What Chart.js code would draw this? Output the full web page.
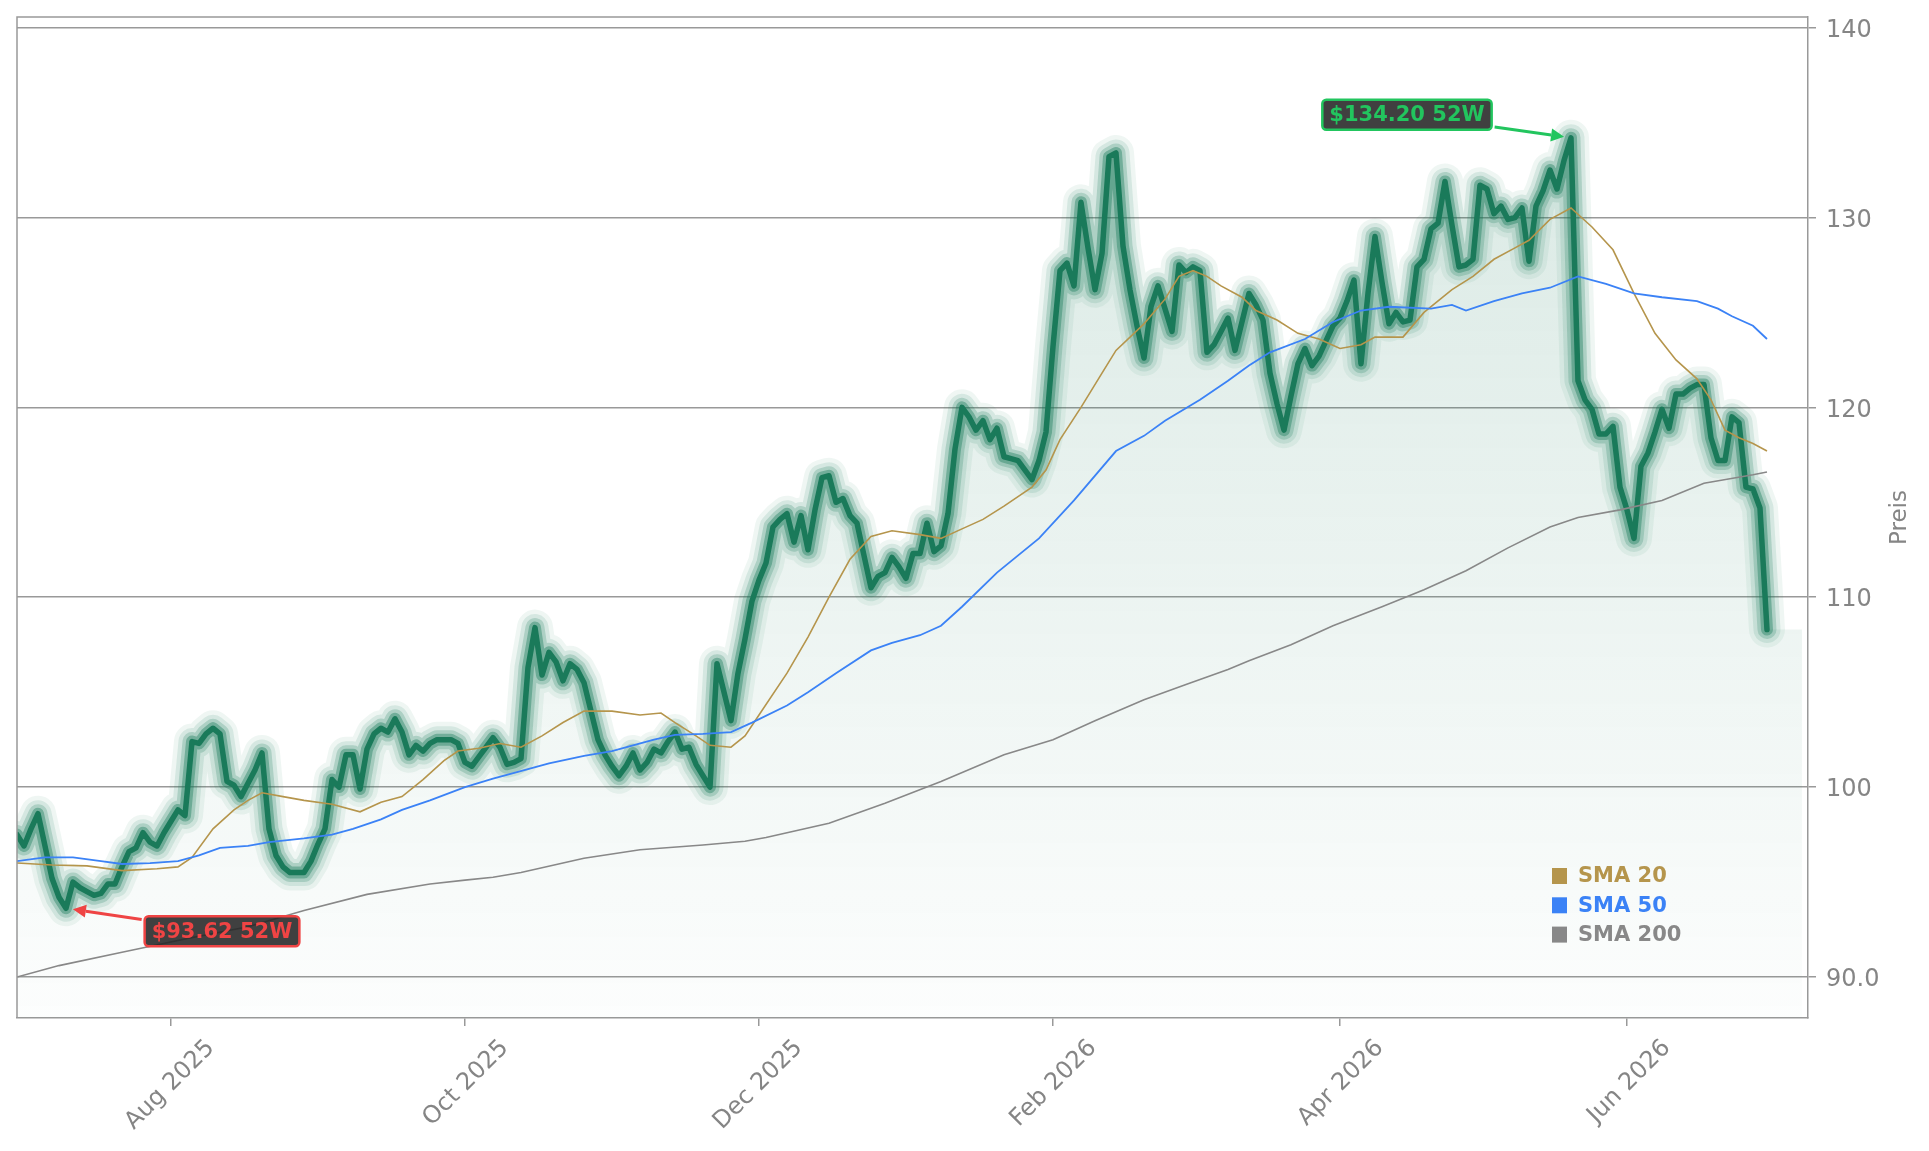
<!DOCTYPE html>
<html>
<head>
<meta charset="utf-8">
<script src="https://cdn.jsdelivr.net/npm/chart.js@4.4.1/dist/chart.umd.min.js"></script>
<style>
html,body{margin:0;padding:0;background:#ffffff;}
#wrap{width:1929px;height:1151px;position:relative;}
canvas{display:block;}
</style>
</head>
<body>
<div id="wrap"><canvas id="c" width="1929" height="1151"></canvas></div>
<script>
// x = trading-day index: 0 = 2025-07-01 ... 250 = 2026-06-30
const priceClose = [
  97.5, 96.9, 97.8, 98.6, 96.9, 95.2, 94.2, 93.62, 95.0, 94.7,
  94.5, 94.3, 94.4, 94.9, 94.9, 95.8, 96.6, 96.8, 97.6, 97.1,
  96.9, 97.6, 98.2, 98.8, 98.5, 102.4, 102.3, 102.8, 103.1, 102.8,
  100.3, 100.1, 99.5, 100.2, 100.9, 101.8, 97.8, 96.4, 95.8, 95.5,
  95.5, 95.5, 96.1, 97.0, 97.8, 100.4, 100.0, 101.7, 101.7, 99.9,
  102.0, 102.8, 103.1, 102.9, 103.6, 102.9, 101.7, 102.2, 101.9, 102.3,
  102.5, 102.5, 102.5, 102.3, 101.3, 101.1, 101.6, 102.1, 102.6, 102.1,
  101.2, 101.3, 101.5, 106.3, 108.4, 105.9, 107.1, 106.6, 105.6, 106.5,
  106.2, 105.5, 104.0, 102.5, 101.7, 101.1, 100.6, 101.1, 101.8, 100.9,
  101.3, 102.0, 101.8, 102.4, 102.9, 102.0, 102.1, 101.2, 100.6, 100.0,
  106.5, 105.0, 103.5, 106.0, 107.8, 109.8, 110.9, 111.8, 113.7, 114.1,
  114.4, 112.9, 114.3, 112.5, 114.6, 116.3, 116.4, 115.0, 115.2, 114.3,
  113.9, 112.2, 110.5, 111.1, 111.3, 112.1, 111.6, 111.0, 112.3, 112.3,
  113.9, 112.4, 112.7, 114.4, 117.8, 120.0, 119.5, 118.8, 119.3, 118.3,
  118.9, 117.4, 117.3, 117.2, 116.7, 116.2, 117.2, 118.7, 123.2, 127.2,
  127.6, 126.4, 130.8, 128.4, 126.2, 128.1, 133.2, 133.4, 128.5, 126.2,
  124.3, 122.6, 125.3, 126.4, 125.2, 124.0, 127.5, 127.1, 127.4, 127.2,
  122.9, 123.3, 124.0, 124.7, 123.0, 124.5, 126.0, 125.4, 124.6, 121.8,
  120.2, 118.8, 120.6, 122.3, 123.1, 122.2, 122.7, 123.5, 124.3, 124.7,
  125.6, 126.7, 122.3, 126.0, 129.0, 126.6, 124.4, 125.0, 124.5, 124.6,
  127.4, 127.8, 129.4, 129.7, 131.9, 129.6, 127.4, 127.5, 127.8, 131.7,
  131.5, 130.2, 130.6, 129.9, 130.0, 130.5, 127.7, 130.6, 131.4, 132.5,
  131.5, 133.0, 134.2, 121.4, 120.4, 119.9, 118.6, 118.6, 119.0, 115.8,
  114.6, 113.1, 116.9, 117.6, 118.7, 119.9, 118.9, 120.7, 120.7, 121.0,
  121.2, 121.2, 118.4, 117.2, 117.2, 119.5, 119.2, 115.8, 115.7, 114.7,
  108.3
];

// moving averages: [trading-day index, value]
const sma20 = [
  [0,96.0],[5,95.9],[10,95.85],[15,95.6],[20,95.7],[23,95.8],[25,96.3],[28,97.8],[31,98.8],[33,99.3],
  [35,99.7],[38,99.5],[41,99.3],[45,99.1],[49,98.7],[52,99.2],[55,99.5],[58,100.4],[61,101.4],[63,101.9],
  [66,102.05],[69,102.3],[72,102.1],[75,102.7],[78,103.4],[81,104.0],[85,104.0],[89,103.8],[92,103.9],[94,103.4],
  [97,102.7],[99,102.2],[102,102.1],[104,102.7],[106,103.8],[110,106.0],[113,107.9],[116,110.0],[119,112.0],[122,113.2],
  [125,113.5],[129,113.3],[132,113.1],[135,113.6],[138,114.1],[141,114.8],[145,115.8],[147,116.7],[149,118.3],[152,120.0],
  [155,121.8],[157,123.0],[161,124.4],[164,125.7],[166,126.9],[168,127.2],[170,126.9],[172,126.4],[175,125.8],[177,125.1],
  [180,124.6],[183,123.9],[186,123.6],[189,123.1],[192,123.3],[194,123.7],[198,123.7],[201,125.0],[205,126.2],[208,126.9],
  [211,127.8],[214,128.4],[216,128.8],[219,129.9],[222,130.5],[225,129.5],[228,128.3],[231,126.0],[234,123.9],[237,122.5],
  [240,121.5],[242,120.4],[244,118.8],[246,118.4],[248,118.1],[250,117.7]
];
const sma50 = [
  [0,96.1],[4,96.3],[8,96.3],[12,96.1],[15,95.95],[19,96.0],[23,96.1],[26,96.4],[29,96.8],[33,96.9],
  [36,97.1],[41,97.3],[45,97.5],[48,97.8],[52,98.3],[55,98.8],[59,99.3],[64,100.0],[68,100.45],[73,100.95],
  [76,101.25],[81,101.65],[85,101.9],[88,102.2],[91,102.5],[94,102.75],[98,102.8],[102,102.9],[105,103.4],[110,104.3],
  [113,105.0],[117,106.0],[122,107.2],[125,107.6],[129,108.0],[132,108.5],[135,109.5],[140,111.3],[146,113.1],[151,115.1],
  [157,117.7],[161,118.5],[164,119.3],[169,120.4],[173,121.4],[176,122.2],[179,122.9],[184,123.6],[188,124.5],[192,125.1],
  [196,125.3],[202,125.2],[205,125.4],[207,125.1],[211,125.6],[215,126.0],[219,126.3],[223,126.9],[227,126.5],[231,126.0],
  [235,125.8],[240,125.6],[243,125.2],[245,124.8],[248,124.3],[250,123.6]
];
const sma200 = [
  [0,90.0],[6,90.6],[15,91.3],[24,92.0],[33,92.65],[41,93.5],[50,94.35],[59,94.9],[64,95.1],[68,95.25],
  [72,95.5],[81,96.25],[89,96.7],[98,96.95],[104,97.15],[107,97.35],[116,98.1],[124,99.15],[132,100.3],[141,101.7],
  [148,102.5],[154,103.5],[161,104.6],[167,105.4],[173,106.2],[176,106.65],[182,107.5],[188,108.5],[195,109.5],[201,110.4],
  [207,111.4],[213,112.6],[219,113.7],[223,114.2],[229,114.6],[235,115.1],[241,116.0],[248,116.45],[250,116.6]
];

const seriesNames = ['SMA 20', 'SMA 50', 'SMA 200'];
const xTickDays = [22, 64, 106, 148, 189, 230];
const xTickLabels = ['Aug 2025', 'Oct 2025', 'Dec 2025', 'Feb 2026', 'Apr 2026', 'Jun 2026'];
const yTickValues = [90, 100, 110, 120, 130, 140];
const yTickLabels = ['90.0', '100', '110', '120', '130', '140'];
const yAxisTitle = 'Preis';
const xRange = [0, 255.86];
const yRange = [87.84, 140.56];
const fillExtendDays = 5;

// ---------- styling ----------
const FONT = '"DejaVu Sans", "Liberation Sans", sans-serif';
const GREEN = '26,122,90';
const C20 = '#b5954c', C50 = '#3b82f6', C200 = '#888888';
const AXIS = '#999999', TXT = '#858585';

const toXY = arr => arr.map((v, i) => ({x: i, y: v}));
const pairXY = arr => arr.map(p => ({x: p[0], y: p[1]}));
const lastIdx = priceClose.length - 1;
const fillData = toXY(priceClose).concat([{x: lastIdx + fillExtendDays, y: priceClose[lastIdx]}]);

function glow(width, alpha) {
  return {data: toXY(priceClose), borderColor: `rgba(${GREEN},${alpha})`, borderWidth: width,
    pointRadius: 0, fill: false, tension: 0, borderJoinStyle: 'round', borderCapStyle: 'round'};
}

const datasets = [
  {label: seriesNames[2], data: pairXY(sma200), borderColor: C200, borderWidth: 1.6, pointRadius: 0, fill: false},
  {label: seriesNames[1], data: pairXY(sma50), borderColor: C50, borderWidth: 1.8, pointRadius: 0, fill: false},
  {label: seriesNames[0], data: pairXY(sma20), borderColor: C20, borderWidth: 1.6, pointRadius: 0, fill: false},
  {label: 'Kurs', data: toXY(priceClose), borderColor: '#1a7a5a', borderWidth: 5.5, pointRadius: 0, fill: false,
    borderJoinStyle: 'round', borderCapStyle: 'round'},
  glow(12, 0.40),
  glow(19, 0.22),
  glow(27, 0.12),
  glow(36, 0.07),
  {label: 'fill', data: fillData, borderWidth: 0, pointRadius: 0, fill: 'start',
    backgroundColor: (ctx) => {
      const ch = ctx.chart, ca = ch.chartArea;
      if (!ca) return 'rgba(0,0,0,0)';
      const g = ch.ctx.createLinearGradient(0, ca.top, 0, ca.bottom);
      g.addColorStop(0, `rgba(${GREEN},0.18)`);
      g.addColorStop(1, `rgba(${GREEN},0.012)`);
      return g;
    }}
];
const legendColors = {'SMA 20': C20, 'SMA 50': C50, 'SMA 200': C200};

function drawTag(ctx, px, py, dx, dy, text, color) {
  ctx.save();
  ctx.font = 'bold 21px ' + FONT;
  const tw = ctx.measureText(text).width;
  const bw = tw + 14, bh = 30;
  const cx = px + dx, cy = py + dy;
  const ang = Math.atan2(py - cy, px - cx);
  const ca = Math.abs(Math.cos(ang)) || 1e-6, sa = Math.abs(Math.sin(ang)) || 1e-6;
  const t0 = Math.min((bw / 2) / ca, (bh / 2) / sa) + 3;
  const sx = cx + Math.cos(ang) * t0, sy = cy + Math.sin(ang) * t0;
  const ex = px - Math.cos(ang) * 7, ey = py - Math.sin(ang) * 7;
  const headL = 13, headW = 6.5;
  const bx = ex - Math.cos(ang) * headL, by = ey - Math.sin(ang) * headL;
  ctx.strokeStyle = color; ctx.lineWidth = 3; ctx.lineCap = 'butt';
  ctx.beginPath(); ctx.moveTo(sx, sy); ctx.lineTo(bx, by); ctx.stroke();
  ctx.fillStyle = color;
  ctx.beginPath(); ctx.moveTo(ex, ey);
  ctx.lineTo(bx - Math.sin(ang) * headW, by + Math.cos(ang) * headW);
  ctx.lineTo(bx + Math.sin(ang) * headW, by - Math.cos(ang) * headW);
  ctx.closePath(); ctx.fill();
  ctx.beginPath();
  if (ctx.roundRect) ctx.roundRect(cx - bw / 2, cy - bh / 2, bw, bh, 4);
  else ctx.rect(cx - bw / 2, cy - bh / 2, bw, bh);
  ctx.fillStyle = 'rgba(38,38,38,0.88)'; ctx.fill();
  ctx.lineWidth = 2.5; ctx.strokeStyle = color; ctx.stroke();
  ctx.fillStyle = color; ctx.textAlign = 'center'; ctx.textBaseline = 'middle';
  ctx.fillText(text, cx, cy + 1);
  ctx.restore();
}

const decorations = {
  id: 'decorations',
  afterDatasetsDraw(chart) {
    const {ctx, chartArea: ca, scales: {x, y}} = chart;
    // 52-week high / low tags
    const hi = Math.max(...priceClose), lo = Math.min(...priceClose);
    const hiI = priceClose.indexOf(hi), loI = priceClose.indexOf(lo);
    drawTag(ctx, x.getPixelForValue(hiI), y.getPixelForValue(hi), -164, -23, '$' + hi.toFixed(2) + ' 52W', '#22c55e');
    drawTag(ctx, x.getPixelForValue(loI), y.getPixelForValue(lo), 156, 23, '$' + lo.toFixed(2) + ' 52W', '#ef4444');
    // legend
    ctx.save();
    ctx.font = 'bold 21px ' + FONT;
    ctx.textBaseline = 'middle'; ctx.textAlign = 'left';
    const lx = ca.right - 256, ly = ca.bottom - 142;
    seriesNames.forEach((n, k) => {
      const yy = ly + k * 29.3;
      ctx.fillStyle = legendColors[n];
      ctx.fillRect(lx, yy - 8, 15, 16);
      ctx.fillText(n, lx + 26, yy + 1);
    });
    ctx.restore();
  },
  afterDraw(chart) {
    const {ctx, chartArea: ca} = chart;
    ctx.save();
    ctx.strokeStyle = AXIS; ctx.lineWidth = 1.5;
    ctx.beginPath();
    ctx.moveTo(ca.left, ca.bottom); ctx.lineTo(ca.left, ca.top); ctx.lineTo(ca.right, ca.top);
    ctx.stroke();
    // y axis title (reads bottom-to-top)
    ctx.translate(ca.right + 92, (ca.top + ca.bottom) / 2);
    ctx.rotate(-Math.PI / 2);
    ctx.font = '23px ' + FONT; ctx.fillStyle = TXT;
    ctx.textAlign = 'center'; ctx.textBaseline = 'middle';
    ctx.fillText(yAxisTitle, 0, 0);
    ctx.restore();
  }
};

new Chart(document.getElementById('c'), {
  type: 'line',
  data: {datasets},
  options: {
    responsive: false, animation: false, devicePixelRatio: 1,
    layout: {padding: {left: 17, top: 17, right: 0, bottom: 0}},
    elements: {line: {tension: 0}, point: {radius: 0}},
    plugins: {legend: {display: false}, tooltip: {enabled: false}},
    scales: {
      x: {
        type: 'linear', min: xRange[0], max: xRange[1],
        afterBuildTicks: s => { s.ticks = xTickDays.map(v => ({value: v})); },
        afterFit: s => { s.height = 133; s.paddingLeft = 0; s.paddingRight = 0; },
        ticks: {
          autoSkip: false, minRotation: 45, maxRotation: 45, labelOffset: 40, padding: 8,
          color: TXT, font: {family: FONT, size: 24},
          callback: v => xTickLabels[xTickDays.indexOf(v)]
        },
        grid: {drawOnChartArea: false, drawTicks: true, tickLength: 8, color: AXIS, lineWidth: 1.5},
        border: {display: true, color: AXIS, width: 1.5}
      },
      y: {
        type: 'linear', position: 'right', min: yRange[0], max: yRange[1],
        afterBuildTicks: s => { s.ticks = yTickValues.map(v => ({value: v})); },
        afterFit: s => { s.width = 121; s.paddingTop = 0; s.paddingBottom = 0; },
        ticks: {
          padding: 10, labelOffset: 3, color: TXT, font: {family: FONT, size: 24},
          callback: v => yTickLabels[yTickValues.indexOf(v)]
        },
        grid: {drawOnChartArea: true, drawTicks: true, tickLength: 8, color: AXIS, lineWidth: 1.5},
        border: {display: true, color: AXIS, width: 1.5}
      }
    }
  },
  plugins: [decorations]
});
</script>
</body>
</html>
